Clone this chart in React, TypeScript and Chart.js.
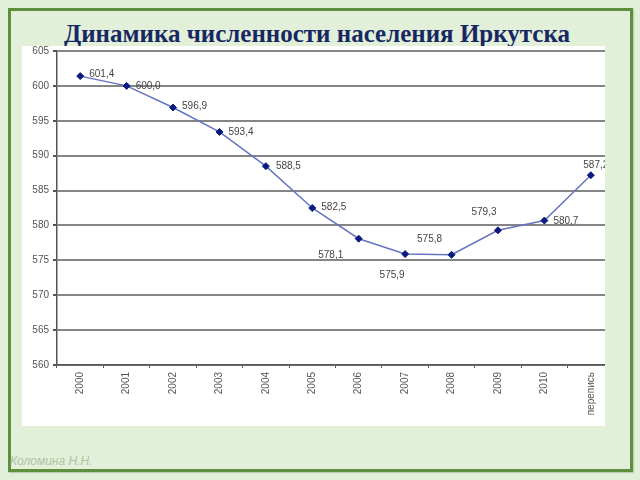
import React, { useEffect, useRef } from "react";
import { Chart, registerables } from "chart.js";

Chart.register(...registerables);

const categories = ["2000", "2001", "2002", "2003", "2004", "2005", "2006", "2007", "2008", "2009", "2010", "перепись"];
const population = [601.4, 600.0, 596.9, 593.4, 588.5, 582.5, 578.1, 575.9, 575.8, 579.3, 580.7, 587.2];
const valueLabels = ["601,4", "600,0", "596,9", "593,4", "588,5", "582,5", "578,1", "575,9", "575,8", "579,3", "580,7", "587,2"];
// label placement relative to the point: [dx, dy, align]
const labelPlacement: [number, number, CanvasTextAlign][] = [
  [9, -2, "left"],
  [9, 0, "left"],
  [9, -1, "left"],
  [9, 0, "left"],
  [10, 0, "left"],
  [9, -1, "left"],
  [-28, 17, "center"],
  [-13, 21, "center"],
  [-22, -16, "center"],
  [-14, -18, "center"],
  [9, 1, "left"],
  [5, -10, "center"],
];
const yMin = 560;
const yMax = 605;
const yStep = 5;
const title = "Динамика численности населения Иркутска";
const author = "Коломина Н.Н.";

const labelPlugin = {
  id: "valueLabels",
  afterDatasetsDraw(chart: any) {
    const ctx = chart.ctx;
    const meta = chart.getDatasetMeta(0);
    ctx.save();
    ctx.font = "10px 'Liberation Sans', Arial, sans-serif";
    ctx.fillStyle = "#444";
    ctx.textBaseline = "middle";
    meta.data.forEach((pt: any, i: number) => {
      const [dx, dy, align] = labelPlacement[i];
      ctx.textAlign = align;
      ctx.fillText(valueLabels[i], pt.x + dx, pt.y + dy);
    });
    ctx.restore();
  },
};

function ChartBox() {
  const ref = useRef<HTMLCanvasElement>(null);
  useEffect(() => {
    if (!ref.current) return;
    const chart = new Chart(ref.current, {
      type: "line",
      data: {
        labels: categories,
        datasets: [
          {
            data: population,
            borderColor: "#6574bf",
            borderWidth: 1.5,
            pointStyle: "rectRot",
            pointRadius: 3.5,
            pointBackgroundColor: "#0a1a80",
            pointBorderColor: "#0a1a80",
            pointBorderWidth: 1,
            tension: 0,
          },
        ],
      },
      options: {
        animation: false,
        responsive: false,
        maintainAspectRatio: false,
        layout: { padding: { top: 0, right: 8, left: 0, bottom: 0 } },
        plugins: {
          legend: { display: false },
          tooltip: { enabled: false },
          title: { display: false },
        },
        scales: {
          x: {
            offset: true,
            grid: {
              offset: true,
              drawOnChartArea: false,
              drawTicks: true,
              tickLength: 3,
              color: "#555",
            },
            border: { color: "#555", width: 1.5 },
            ticks: {
              minRotation: 90,
              maxRotation: 90,
              color: "#555",
              padding: 4,
              font: { size: 10, family: "'Liberation Sans', Arial, sans-serif" },
            },
            afterFit(scale: any) {
              scale.height = 61;
            },
          },
          y: {
            min: yMin,
            max: yMax,
            ticks: {
              stepSize: yStep,
              color: "#555",
              padding: 4,
              font: { size: 10, family: "'Liberation Sans', Arial, sans-serif" },
            },
            grid: {
              color: "#858585",
              lineWidth: 2,
              drawTicks: true,
              tickLength: 4,
              tickColor: "#555",
            },
            border: { color: "#555", width: 1.5 },
            afterFit(scale: any) {
              scale.width = 35;
            },
          },
        },
      },
      plugins: [labelPlugin],
    });
    return () => chart.destroy();
  }, []);
  return (
    <canvas
      ref={ref}
      width={600}
      height={385}
      style={{ display: "block", position: "absolute", left: 0, top: -5 }}
    />
  );
}

export default function App() {
  return (
    <div
      style={{
        position: "fixed",
        left: 0,
        top: 0,
        width: 640,
        height: 480,
        background: "#e2efd9",
        overflow: "hidden",
      }}
    >
      <div
        style={{
          position: "absolute",
          left: 8,
          top: 8,
          width: 619,
          height: 458,
          border: "3px solid #5e8f3f",
          boxShadow: "1px 1px 1px rgba(0,0,0,0.15)",
        }}
      />
      <div
        style={{
          position: "absolute",
          left: 0,
          width: 634,
          top: 19,
          textAlign: "center",
          fontFamily: "'Liberation Serif', 'Times New Roman', serif",
          fontWeight: "bold",
          fontSize: 25,
          color: "#172763",
          lineHeight: "30px",
          whiteSpace: "nowrap",
        }}
      >
        {title}
      </div>
      <div
        style={{
          position: "absolute",
          left: 22,
          top: 46,
          width: 583,
          height: 380,
          background: "#fff",
          overflow: "hidden",
        }}
      >
        <ChartBox />
      </div>
      <div
        style={{
          position: "absolute",
          left: 10,
          top: 454,
          fontFamily: "'Liberation Sans', Arial, sans-serif",
          fontStyle: "italic",
          fontSize: 12,
          color: "#afc4a2",
        }}
      >
        {author}
      </div>
    </div>
  );
}
